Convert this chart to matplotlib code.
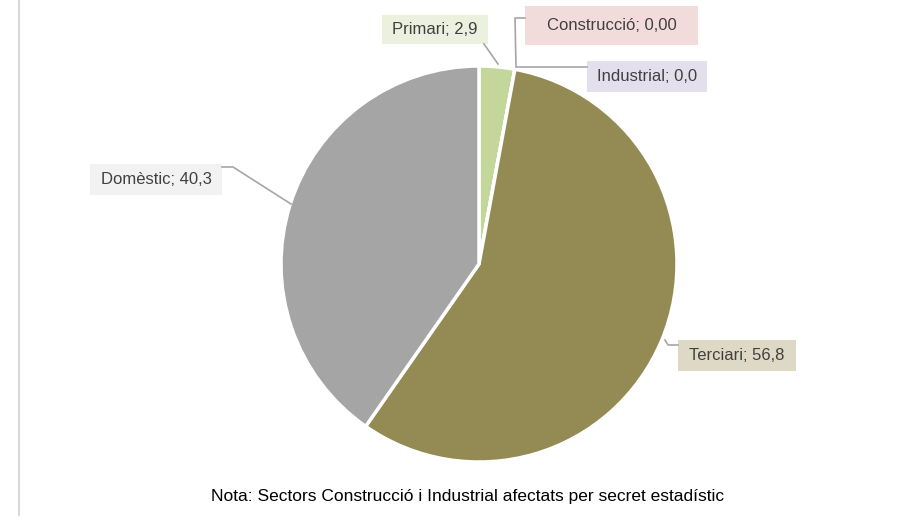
import matplotlib.pyplot as plt
from matplotlib.lines import Line2D
from matplotlib.patches import Rectangle

# Dades
sectors = ['Primari', 'Construcció', 'Industrial', 'Terciari', 'Domèstic']
valors = [2.9, 0.0, 0.0, 56.8, 40.3]
etiquetes = ['Primari; 2,9', 'Construcció; 0,00', 'Industrial; 0,0',
             'Terciari; 56,8', 'Domèstic; 40,3']
colors = ['#c4d79b', '#f2dcdb', '#e4dfec', '#948a54', '#a5a5a5']
fons_etiq = ['#ebf1de', '#f2dcdb', '#e4dfec', '#ddd9c4', '#f2f2f2']
nota = 'Nota: Sectors Construcció i Industrial afectats per secret estadístic'

W, H = 916, 518
fig = plt.figure(figsize=(W / 100, H / 100), dpi=100)
ax = fig.add_axes([0, 0, 1, 1])
ax.axis('off')

def py(y):
    # coordenada de píxel (des de dalt) a coordenada de dades
    return H - y

ax.pie(valors, colors=colors, startangle=90, counterclock=False,
       center=(479, py(264)), radius=198,
       wedgeprops=dict(edgecolor='white', linewidth=2.5))
ax.set_xlim(0, W)
ax.set_ylim(0, H)
ax.set_aspect('equal')

# caixes de les etiquetes (x0, y0, x1, y1 en píxels)
caixes = [(382, 15, 488, 44), (525, 6, 698, 45), (587, 61, 707, 92),
          (678, 340, 796, 371), (90, 164, 222, 195)]
font = dict(family=['Liberation Sans', 'DejaVu Sans'], fontsize=12,
            color='#404040')
for (x0, y0, x1, y1), txt, bg in zip(caixes, etiquetes, fons_etiq):
    ax.add_patch(Rectangle((x0, py(y1)), x1 - x0, y1 - y0, fc=bg, ec='none',
                           zorder=4))
    ax.text((x0 + x1) / 2, py((y0 + y1) / 2), txt, ha='center', va='center',
            zorder=6, **font)

# línies guia
guies = [
    [(484, 44), (498, 64)],
    [(525, 18), (515, 18), (516, 67)],
    [(517, 67), (587, 67)],
    [(665, 340), (668, 345), (678, 345)],
    [(222, 167), (233, 167), (291, 204)],
]
for g in guies:
    xs = [p[0] for p in g]
    ys = [py(p[1]) for p in g]
    ax.add_line(Line2D(xs, ys, color='#a6a6a6', lw=1.2, zorder=5))

# vora esquerra
ax.add_line(Line2D([18.5, 18.5], [py(0), py(515)], color='#d9d9d9', lw=1.5))

ax.text(468, py(497), nota, ha='center', va='center',
        family=['Liberation Sans', 'DejaVu Sans'],
        fontsize=12.5, color='#000000')

fig.savefig('out.png', dpi=100)
